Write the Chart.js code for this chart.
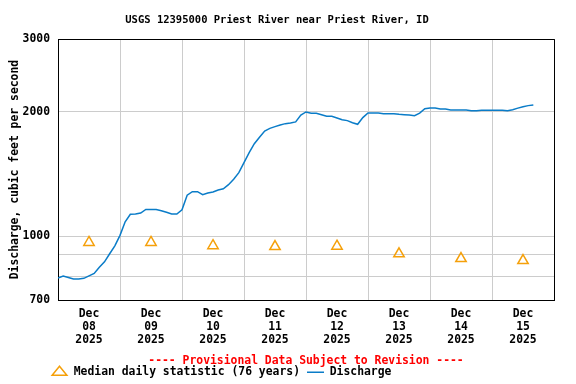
<!DOCTYPE html>
<html>
<head>
<meta charset="utf-8">
<script src="https://cdn.jsdelivr.net/npm/chart.js@4"></script>
<style>
    html, body { margin: 0; padding: 0; background: #fff; }
    canvas { display: block; }
</style>
</head>
<body>
<canvas id="hydrograph" width="576" height="384"></canvas>
<script>
/* ### Data ### */

// Hours since Dec 08 2025 00:00 (readings every 2 hours)
const dischargeHours = [
    0, 2, 4, 6, 8, 10, 12, 14, 16, 18, 20, 22,
    24, 26, 28, 30, 32, 34, 36, 38, 40, 42, 44, 46,
    48, 50, 52, 54, 56, 58, 60, 62, 64, 66, 68, 70,
    72, 74, 76, 78, 80, 82, 84, 86, 88, 90, 92, 94,
    96, 98, 100, 102, 104, 106, 108, 110, 112, 114, 116, 118,
    120, 122, 124, 126, 128, 130, 132, 134, 136, 138, 140, 142,
    144, 146, 148, 150, 152, 154, 156, 158, 160, 162, 164, 166,
    168, 170, 172, 174, 176, 178, 180, 182, 184
];

// Discharge, cubic feet per second
const dischargeValues = [
    791, 800, 794, 787, 787, 790, 801, 812, 840, 866, 906, 947,
    1004, 1083, 1129, 1131, 1137, 1160, 1160, 1160, 1152, 1142, 1131, 1131,
    1158, 1256, 1281, 1281, 1259, 1271, 1279, 1293, 1302, 1332, 1373, 1424,
    1506, 1592, 1674, 1736, 1797, 1823, 1841, 1858, 1872, 1879, 1890, 1963,
    1998, 1983, 1983, 1968, 1950, 1950, 1932, 1914, 1904, 1882, 1865, 1936,
    1987, 1987, 1987, 1979, 1979, 1979, 1972, 1968, 1965, 1957, 1985, 2035,
    2043, 2043, 2032, 2032, 2021, 2021, 2021, 2021, 2013, 2013, 2018, 2018,
    2018, 2018, 2018, 2013, 2024, 2041, 2058, 2070, 2078
];

// Median daily statistic, plotted at noon of each day
const medianHours = [12, 36, 60, 84, 108, 132, 156, 180];
const medianValues = [965, 965, 948, 943, 945, 906, 882, 872];

const dayLabels = ['08', '09', '10', '11', '12', '13', '14', '15'];
const xTicks = [0, 12, 24, 36, 48, 60, 72, 84, 96, 108, 120, 132, 144, 156, 168, 180, 192];
const yTicks = [700, 800, 900, 1000, 2000, 3000];
const yLabelled = [700, 1000, 2000, 3000];

/* ### Style ### */

const FONT = "'DejaVu Sans Mono', 'Liberation Mono', monospace";
const GRID = '#cccccc';
const BLUE = '#0a7cc8';
const ORANGE = '#f5a00a';

Chart.defaults.font.family = FONT;
Chart.defaults.font.weight = 'bold';
Chart.defaults.color = '#000';

// Legend sits left of centre in the reference
const legendShift = {
    id: 'legendShift',
    afterLayout(chart) {
        chart.legend.left = 44;
    }
};

/* ### Chart ### */

new Chart(document.getElementById('hydrograph').getContext('2d'), {
    type: 'line',
    data: {
        datasets: [{
                label: 'Median daily statistic (76 years)',
                data: medianHours.map((h, i) => ({ x: h, y: medianValues[i] })),
                showLine: false,
                pointStyle: 'triangle',
                pointRadius: 6,
                pointBorderWidth: 1.5,
                borderWidth: 1.5,
                borderColor: ORANGE,
                pointBorderColor: ORANGE,
                backgroundColor: 'rgba(0,0,0,0)',
                pointBackgroundColor: 'rgba(0,0,0,0)'
            },
            {
                label: 'Discharge',
                data: dischargeHours.map((h, i) => ({ x: h, y: dischargeValues[i] })),
                pointStyle: 'line',
                pointRadius: 0,
                borderWidth: 1.5,
                borderColor: BLUE,
                backgroundColor: BLUE,
                fill: false,
                tension: 0
            }
        ]
    },
    options: {
        responsive: false,
        animation: false,
        layout: {
            padding: { left: 0, right: 22, top: 0, bottom: -4 }
        },
        plugins: {
            title: {
                display: true,
                text: 'USGS 12395000 Priest River near Priest River, ID',
                font: { size: 10.5, weight: 'bold' },
                color: '#000',
                padding: { top: 14, bottom: 12.5 }
            },
            legend: {
                position: 'bottom',
                align: 'start',
                labels: {
                    usePointStyle: true,
                    pointStyleWidth: 17,
                    boxHeight: 8.5,
                    padding: 7,
                    font: { size: 11.4, weight: 'bold' },
                    color: '#000'
                }
            },
            tooltip: { enabled: false }
        },
        scales: {
            x: {
                type: 'linear',
                min: 0,
                max: 192,
                afterBuildTicks: (scale) => {
                    scale.ticks = xTicks.map(v => ({ value: v }));
                },
                afterFit: (scale) => {
                    scale.height = 59.6;
                },
                grid: {
                    drawTicks: false,
                    lineWidth: 1,
                    color: (ctx) => {
                        const v = ctx.tick.value;
                        if (v === 192) return '#000';
                        if (v > 0 && v % 24 === 0) return GRID;
                        return 'rgba(0,0,0,0)';
                    }
                },
                border: { color: '#000', width: 1 },
                ticks: {
                    autoSkip: false,
                    maxRotation: 0,
                    padding: 7.5,
                    color: '#000',
                    font: { size: 11.4, weight: 'bold', lineHeight: '13px' },
                    callback: (v) => (v % 24 === 12) ? ['Dec', dayLabels[(v - 12) / 24], '2025'] : ''
                },
                title: {
                    display: true,
                    text: '---- Provisional Data Subject to Revision ----',
                    color: '#ff0000',
                    font: { size: 11.4, weight: 'bold' },
                    padding: { top: 0, bottom: -8.2 }
                }
            },
            y: {
                type: 'logarithmic',
                min: 700,
                max: 3000,
                afterBuildTicks: (scale) => {
                    scale.ticks = yTicks.map(v => ({ value: v }));
                },
                afterFit: (scale) => {
                    scale.width = 58;
                },
                grid: {
                    drawTicks: false,
                    lineWidth: 1,
                    color: (ctx) => {
                        const v = ctx.tick.value;
                        if (v === 3000) return '#000';
                        if (v === 700) return 'rgba(0,0,0,0)';
                        return GRID;
                    }
                },
                border: { color: '#000', width: 1 },
                ticks: {
                    padding: 8,
                    color: '#000',
                    font: { size: 11.4, weight: 'bold' },
                    callback: (v) => yLabelled.includes(v) ? String(v) : ''
                },
                title: {
                    display: true,
                    text: 'Discharge, cubic feet per second',
                    color: '#000',
                    font: { size: 11.4, weight: 'bold' },
                    padding: { top: 8, bottom: 0 }
                }
            }
        }
    },
    plugins: [legendShift]
});
</script>
</body>
</html>
